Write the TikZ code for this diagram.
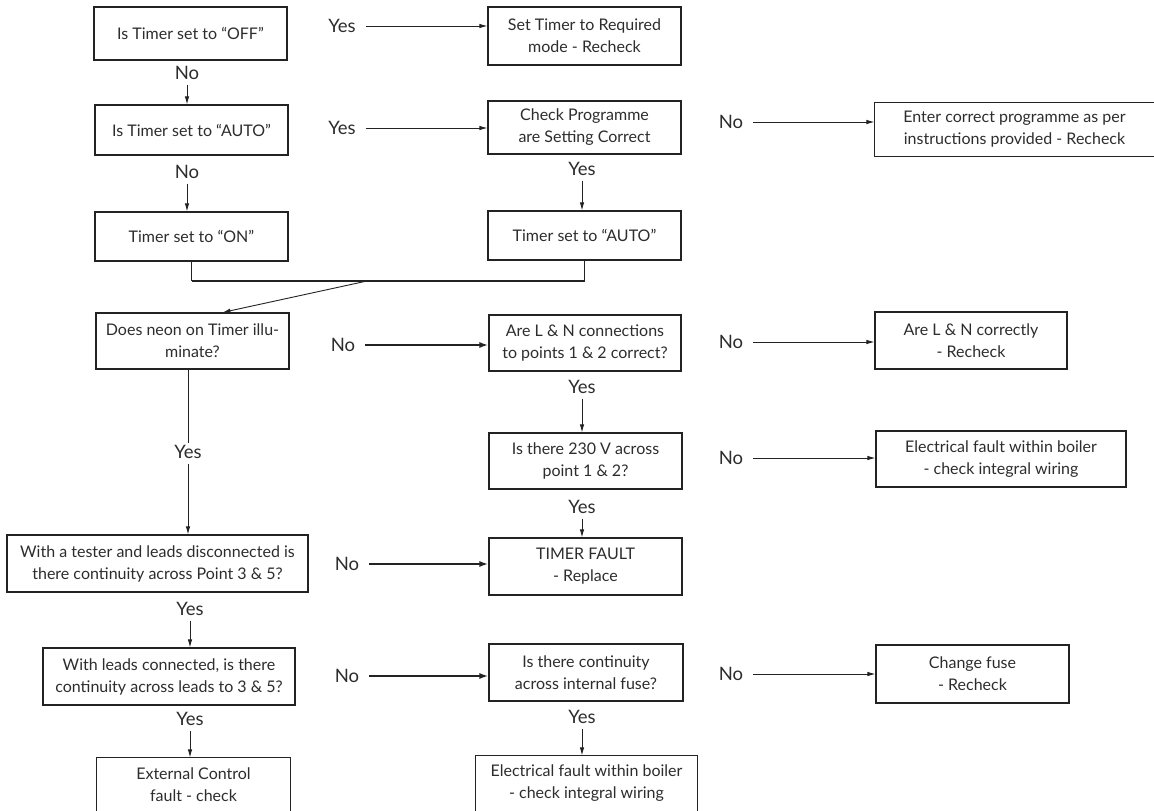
\documentclass[tikz,border=0pt]{standalone}
\usepackage{fontspec}
\setmainfont{Lato}
\usetikzlibrary{arrows.meta,calc}
\definecolor{ink}{RGB}{35,35,35}
\definecolor{txt}{RGB}{45,45,45}
\tikzset{
  box/.style={draw=ink, line width=1.1pt, inner sep=0pt, align=center, text=txt,
              font=\fontsize{16}{22}\selectfont},
  openbox/.style={box, draw=none},
  lab/.style={inner sep=2pt, text=txt, font=\fontsize{18.5}{22}\selectfont},
  conn/.style={draw=ink, line width=0.9pt},
  arr/.style={conn, -{Latex[length=8pt,width=4.5pt]}},
  harr/.style={arr, shorten <=8pt},
  varr/.style={arr, shorten <=3pt},
  tarr/.style={draw=ink, line width=2.4pt, shorten <=8pt, -{Latex[length=9pt,width=6pt]}},
}
\begin{document}
\begin{tikzpicture}[x=1pt,y=-1pt]
\useasboundingbox (0,0) rectangle (1154,811);
\fill[white] (0,0) rectangle (1154,811);

% boxes
\node[box, minimum width=193pt, minimum height=53pt] (b1) at (190.5,33.5) {Is Timer set to “OFF”};
\node[box, minimum width=193pt, minimum height=50pt] (b2) at (191.5,130) {Is Timer set to “AUTO”};
\node[box, minimum width=193pt, minimum height=49pt] (b3) at (191.5,236.5) {Timer set to “ON”};
\node[box, minimum width=193pt, minimum height=58pt] (b4) at (584.5,36) {Set Timer to Required\\mode - Recheck};
\node[box, minimum width=193pt, minimum height=53pt] (b5) at (584.5,127.5) {Check Programme\\are Setting Correct};
\node[box, minimum width=193pt, minimum height=49pt] (b6) at (584.5,235.5) {Timer set to “AUTO”};
\node[openbox, minimum width=279pt, minimum height=53pt] (b7) at (1014.5,129.5) {Enter correct programme as per\\instructions provided - Recheck};
\draw[conn, line width=1.1pt] (b7.north east) -- (b7.north west) -- (b7.south west) -- (b7.south east);
\node[box, minimum width=193pt, minimum height=56pt] (b8) at (192.5,341) {Does neon on Timer illu-\\minate?};
\node[box, minimum width=192pt, minimum height=56pt] (b9) at (585,343) {Are L \& N connections\\to points 1 \& 2 correct?};
\node[box, minimum width=192pt, minimum height=57pt] (b10) at (971,340.5) {Are L \& N correctly\\- Recheck};
\node[box, minimum width=193pt, minimum height=56pt] (b11) at (585.5,461) {Is there 230 V across\\point 1 \& 2?};
\node[box, minimum width=250pt, minimum height=56pt] (b12) at (1001,459) {Electrical fault within boiler\\- check integral wiring};
\node[box, minimum width=193pt, minimum height=57pt] (b13) at (585.5,566.5) {TIMER FAULT\\- Replace};
\node[box, minimum width=301pt, minimum height=57pt] (b14) at (157.5,563.5) {With a tester and leads disconnected is\\there continuity across Point 3 \& 5?};
\node[box, minimum width=194pt, minimum height=57pt] (b15) at (586,672.5) {Is there continuity\\across internal fuse?};
\node[box, minimum width=193pt, minimum height=58pt] (b16) at (972.5,674) {Change fuse\\- Recheck};
\node[openbox, minimum width=221pt, minimum height=55pt] (b17) at (586.5,783.5) {Electrical fault within boiler\\- check integral wiring};
\draw[conn, line width=1.1pt] (b17.south west) -- (b17.north west) -- (b17.north east) -- (b17.south east);
\node[box, minimum width=252pt, minimum height=57pt] (b18) at (169,676.5) {With leads connected, is there\\continuity across leads to 3 \& 5?};
\node[openbox, minimum width=193pt, minimum height=53pt] (b19) at (193.5,784.5) {External Control\\fault - check};
\draw[conn, line width=1.1pt] (b19.south west) -- (b19.north west) -- (b19.north east) -- (b19.south east);

% labels
\node[lab] (n1) at (187,73) {No};
\node[lab] (n2) at (187,172) {No};
\node[lab] (y1) at (342,26) {Yes};
\node[lab] (y2) at (342,128) {Yes};
\node[lab] (y3) at (582,169) {Yes};
\node[lab] (n3) at (731,122) {No};
\node[lab] (n4) at (343,345) {No};
\node[lab] (n5) at (731,342) {No};
\node[lab] (y4) at (188,452) {Yes};
\node[lab] (y5) at (582,387) {Yes};
\node[lab] (n6) at (731,458) {No};
\node[lab] (y6) at (582,507) {Yes};
\node[lab] (n7) at (347,564) {No};
\node[lab] (y7) at (190,609) {Yes};
\node[lab] (n8) at (347,676) {No};
\node[lab] (n9) at (731,674) {No};
\node[lab] (y8) at (190,719) {Yes};
\node[lab] (y9) at (582,717) {Yes};

% connectors
\draw[varr] (n1.south) -- (n1.south |- b2.north);
\draw[varr] (n2.south) -- (n2.south |- b3.north);
\draw[harr] (y1.east) -- (y1.east -| b4.west);
\draw[harr] (y2.east) -- (y2.east -| b5.west);
\draw[varr] (y3.south) -- (y3.south |- b6.north);
\draw[harr] (n3.east) -- (n3.east -| b7.west);

\coordinate (mline) at (0,281);
\coordinate (mj) at (367,281);
\draw[conn] (b3.south) -- (b3.south |- mline);
\draw[conn] (b6.south) -- (b6.south |- mline);
\draw[draw=ink, line width=2.4pt] (b3.south |- mline) -- (b6.south |- mline);
\draw[arr] (mj) -- ([xshift=30pt]b8.north);

\draw[tarr] (n4.east) -- (n4.east -| b9.west);
\draw[harr] (n5.east) -- (n5.east -| b10.west);
\draw[conn] (b8.south -| y4.north) -- (y4.north);
\draw[varr] (y4.south) -- (y4.south |- b14.north);
\draw[varr] (y5.south) -- (y5.south |- b11.north);
\draw[harr] (n6.east) -- (n6.east -| b12.west);
\draw[varr] (y6.south) -- (y6.south |- b13.north);
\draw[tarr] (n7.east) -- (n7.east -| b13.west);
\draw[varr] (y7.south) -- (y7.south |- b18.north);
\draw[tarr] (n8.east) -- (n8.east -| b15.west);
\draw[harr] (n9.east) -- (n9.east -| b16.west);
\draw[varr] (y8.south) -- (y8.south |- b19.north);
\draw[varr] (y9.south) -- (y9.south |- b17.north);
\end{tikzpicture}
\end{document}
